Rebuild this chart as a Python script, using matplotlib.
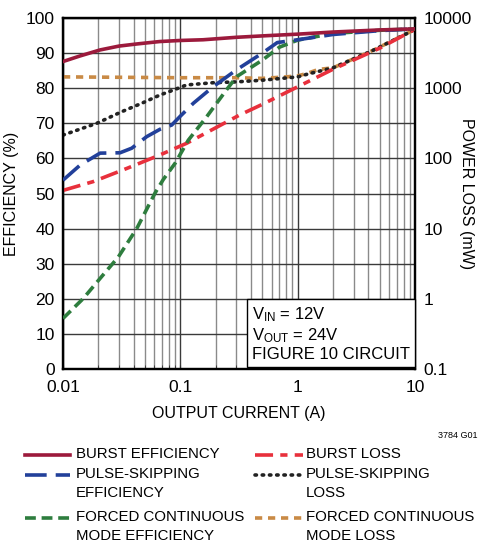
import matplotlib
matplotlib.use("Agg")
import matplotlib.pyplot as plt
from matplotlib.lines import Line2D
from matplotlib.ticker import LogLocator, FixedLocator, NullFormatter

plt.rcParams['font.family'] = ['Liberation Sans', 'DejaVu Sans']
plt.rcParams['mathtext.default'] = 'regular'

# efficiency curves (%)
burst_eff_x = [0.01, 0.014, 0.0207, 0.03, 0.0425, 0.067, 0.1, 0.156, 0.3, 0.5, 1, 2, 5, 10]
burst_eff_y = [87.6, 89.2, 90.9, 92.0, 92.6, 93.3, 93.6, 93.8, 94.5, 94.9, 95.4, 96.0, 96.6, 96.9]

ps_eff_x = [0.01, 0.014, 0.0207, 0.0306, 0.0385, 0.0517, 0.0671, 0.0844, 0.0991, 0.129,
            0.19, 0.3, 0.5, 0.67, 1, 2, 5, 10]
ps_eff_y = [53.8, 58.1, 61.5, 61.6, 62.9, 66.2, 68.3, 69.5, 71.9, 75.7,
            80.4, 85.2, 90.0, 93.0, 93.8, 95.3, 96.4, 96.9]

fc_eff_x = [0.01, 0.0149, 0.0207, 0.0296, 0.0425, 0.0608, 0.0716, 0.0902, 0.117, 0.168,
            0.247, 0.302, 0.5, 0.7, 1, 2, 5, 10]
fc_eff_y = [14.4, 20.1, 25.8, 31.9, 40.0, 50.1, 54.0, 58.6, 65.2, 71.9,
            79.5, 83.3, 88.0, 91.7, 93.7, 95.6, 96.5, 96.9]

# power loss curves (mW)
burst_loss_x = [0.01, 0.018, 0.035, 0.067, 0.113, 0.32, 0.5, 1, 2, 5, 10]
burst_loss_y = [35, 46.6, 72, 112, 164, 415, 589, 1047, 1862, 3715, 6918]

ps_loss_x = [0.01, 0.0194, 0.0316, 0.0469, 0.0671, 0.0873, 0.113, 0.19, 0.3, 0.5, 1,
             1.2, 2, 4.4, 8.5, 10]
ps_loss_y = [215, 316, 462, 610, 800, 942, 1112, 1197, 1230, 1300, 1450,
             1580, 1950, 3470, 6000, 6900]

fc_loss_x = [0.01, 0.1, 0.3, 0.5, 0.8, 1.0, 1.2, 1.5, 2, 4.4, 8.5, 10]
fc_loss_y = [1450, 1410, 1410, 1380, 1450, 1500, 1620, 1850, 1950, 3470, 6000, 6900]

W, H = 478, 549
fig = plt.figure(figsize=(W / 100, H / 100), dpi=100)
ax = fig.add_axes([63 / W, 1 - 369 / H, 352 / W, 351 / H])

ax.set_xscale('log')
ax.set_xlim(0.01, 10)
ax.set_ylim(0, 100)
ax.set_yticks(range(0, 101, 10))
ax.xaxis.set_major_locator(FixedLocator([0.01, 0.1, 1, 10]))
ax.set_xticklabels(['0.01', '0.1', '1', '10'])
ax.xaxis.set_minor_locator(LogLocator(base=10, subs=range(2, 10)))
ax.xaxis.set_minor_formatter(NullFormatter())
ax.grid(True, which='major', color='#3a3a3a', lw=1.0)
ax.grid(True, which='minor', axis='x', color='#8a8a8a', lw=1.0)
ax.tick_params(axis='y', which='both', length=0, labelsize=12.5, pad=6)
ax.tick_params(axis='x', which='both', direction='in', length=3, color='#333',
               labelsize=12.5, pad=8)
for s in ax.spines.values():
    s.set_linewidth(1.6)
ax.set_axisbelow(True)

ax2 = ax.twinx()
ax2.set_yscale('log')
ax2.set_ylim(0.1, 10000)
ax2.yaxis.set_major_locator(FixedLocator([0.1, 1, 10, 100, 1000, 10000]))
ax2.set_yticklabels(['0.1', '1', '10', '100', '1000', '10000'])
ax2.yaxis.set_minor_locator(FixedLocator([]))
ax2.tick_params(axis='y', length=0, labelsize=12.5, pad=6)
ax2.set_xlim(0.01, 10)
for s in ax2.spines.values():
    s.set_linewidth(1.6)

lw = 2.6
ax2.plot(fc_loss_x, fc_loss_y, color='#c98a45', lw=lw, ls=(0, (2.0, 1.6)))
ax2.plot(ps_loss_x, ps_loss_y, color='#222222', lw=lw, ls=(0, (0.4, 1.6)), dash_capstyle='round')
ax2.plot(burst_loss_x, burst_loss_y, color='#e8303c', lw=lw, ls=(0, (5, 2, 2, 2)))

# efficiency lines drawn on top via an overlay axis sharing the % scale
ax3 = fig.add_axes(ax.get_position(), sharex=ax, frameon=False)
ax3.set_ylim(0, 100)
ax3.axis('off')
ax3.plot(fc_eff_x, fc_eff_y, color='#2e7d3e', lw=lw, ls=(0, (3, 1.6)))
ax3.plot(ps_eff_x, ps_eff_y, color='#22409a', lw=lw, ls=(0, (6, 2.5)))
ax3.plot(burst_eff_x, burst_eff_y, color='#9c1a3c', lw=lw)

ax3.text(0.985, 0.02, 'V$_{IN}$ = 12V\nV$_{OUT}$ = 24V\nFIGURE 10 CIRCUIT',
         transform=ax3.transAxes, fontsize=12, va='bottom', ha='right',
         multialignment='left', linespacing=1.15, zorder=10,
         bbox=dict(boxstyle='square,pad=0.3', facecolor='white', edgecolor='black', lw=1.0))

ax.set_xlabel('OUTPUT CURRENT (A)', fontsize=11.5, labelpad=8)
ax.set_ylabel('EFFICIENCY (%)', fontsize=11.5, labelpad=5)
ax2.set_ylabel('POWER LOSS (mW)', fontsize=11.5, rotation=270, va='center')
ax2.yaxis.set_label_coords(1.145, 0.5)

fig.text(477 / W, 1 - 436 / H, '3784 G01', fontsize=6.5, ha='right', va='center')

# legend drawn by hand so the handles line up with the first text line
legend_items = [
    ('BURST EFFICIENCY', '#9c1a3c', '-'),
    ('PULSE-SKIPPING\nEFFICIENCY', '#22409a', (0, (6, 2.5))),
    ('FORCED CONTINUOUS\nMODE EFFICIENCY', '#2e7d3e', (0, (3, 1.6))),
    ('BURST LOSS', '#e8303c', (0, (5, 2, 2, 2))),
    ('PULSE-SKIPPING\nLOSS', '#222222', (0, (0.4, 1.6))),
    ('FORCED CONTINUOUS\nMODE LOSS', '#c98a45', (0, (2.0, 1.6))),
]
row_y = [455, 475, 518]
col_x = [(25, 70, 76), (255, 303, 306)]
for i, (label, color, ls) in enumerate(legend_items):
    x0, x1, xt = col_x[i // 3]
    y = row_y[i % 3]
    fig.add_artist(Line2D([x0 / W, x1 / W], [1 - y / H, 1 - y / H], transform=fig.transFigure,
                          color=color, lw=lw, ls=ls,
                          dash_capstyle='round' if label == 'PULSE-SKIPPING\nLOSS' else 'butt'))
    fig.text(xt / W, 1 - (y - 8) / H, label, fontsize=10.8, ha='left', va='top', linespacing=1.45)

fig.savefig('out.png', dpi=100)
